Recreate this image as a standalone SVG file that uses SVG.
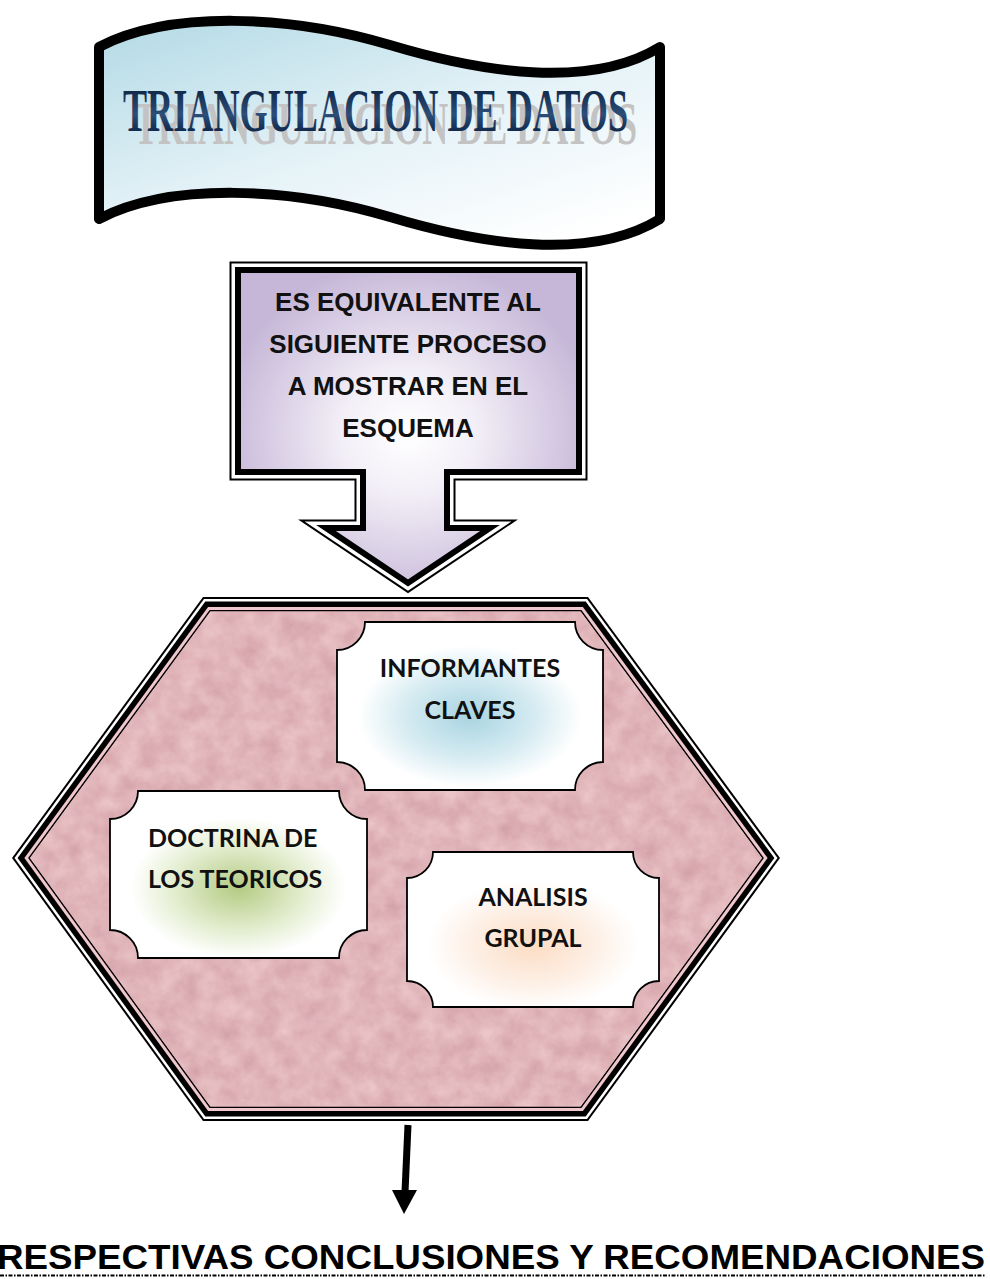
<svg xmlns="http://www.w3.org/2000/svg" width="990" height="1279" viewBox="0 0 990 1279">
<defs>
<style>
.title{font-family:"Liberation Serif","Times New Roman",serif;font-weight:bold;font-size:62px}
.box{font-family:"Liberation Sans",Arial,sans-serif;font-weight:bold;font-size:26px;fill:#111;text-anchor:middle}
.card{font-family:Lato,"Open Sans",sans-serif;font-weight:bold;font-size:25px;fill:#111}
.cardshape{stroke:#000;stroke-width:1.8}
.foot{font-family:"Liberation Sans",Arial,sans-serif;font-weight:bold;font-size:35px;fill:#000}
</style>
<linearGradient id="banG" x1="0" y1="0" x2="0.8" y2="1">
<stop offset="0" stop-color="#b2d9e5"/>
<stop offset="0.55" stop-color="#e4f2f7"/>
<stop offset="1" stop-color="#ffffff"/>
</linearGradient>
<linearGradient id="titG" gradientUnits="userSpaceOnUse" x1="0" y1="88" x2="0" y2="132">
<stop offset="0" stop-color="#0f2544"/>
<stop offset="0.6" stop-color="#2c4e78"/>
<stop offset="1" stop-color="#10284a"/>
</linearGradient>
<radialGradient id="purG" cx="0.5" cy="0.52" r="0.55">
<stop offset="0" stop-color="#ffffff"/>
<stop offset="0.35" stop-color="#f3eff7"/>
<stop offset="1" stop-color="#c6b7d8"/>
</radialGradient>
<radialGradient id="blueG" cx="0.5" cy="0.56" r="0.42">
<stop offset="0" stop-color="#a8d4e1"/>
<stop offset="0.6" stop-color="#d7ecf2"/>
<stop offset="1" stop-color="#ffffff"/>
</radialGradient>
<radialGradient id="greenG" cx="0.5" cy="0.58" r="0.42">
<stop offset="0" stop-color="#b3cb83"/>
<stop offset="0.6" stop-color="#e3edcf"/>
<stop offset="1" stop-color="#ffffff"/>
</radialGradient>
<radialGradient id="peachG" cx="0.5" cy="0.6" r="0.42">
<stop offset="0" stop-color="#fcdcc4"/>
<stop offset="0.6" stop-color="#fdf0e6"/>
<stop offset="1" stop-color="#ffffff"/>
</radialGradient>
<filter id="tex" x="0" y="0" width="1" height="1" color-interpolation-filters="sRGB">
<feTurbulence type="fractalNoise" baseFrequency="0.05" numOctaves="4" seed="7" result="n"/>
<feColorMatrix in="n" type="matrix" values="0.12 0 0 0 0.82  0.18 0 0 0 0.62  0.16 0 0 0 0.65  0 0 0 0 1" result="c"/>
<feComposite in="c" in2="SourceGraphic" operator="in"/>
</filter>
</defs>

<g id="banner">
<path d="M99,47 C170,10 290,15 390,45 C480,72 590,90 660,47 L660,219 C590,262 480,244 390,217 C290,187 170,182 99,219 Z" fill="url(#banG)" stroke="#000" stroke-width="10" stroke-linejoin="round"/>
<text class="title" x="134" y="144" textLength="503" lengthAdjust="spacingAndGlyphs" fill="#c3c3c3" font-size="66">TRIANGULACION DE DATOS</text>
<text class="title" x="123" y="131" textLength="505" lengthAdjust="spacingAndGlyphs" fill="url(#titG)">TRIANGULACION DE DATOS</text>
</g>

<g id="proceso">
<path d="M238,270 H579 V472 H447 V528 H490 L408,583 L326,528 H363 V472 H238 Z" fill="none" stroke="#000" stroke-width="17"/>
<path d="M238,270 H579 V472 H447 V528 H490 L408,583 L326,528 H363 V472 H238 Z" fill="none" stroke="#fff" stroke-width="13"/>
<path d="M238,270 H579 V472 H447 V528 H490 L408,583 L326,528 H363 V472 H238 Z" fill="url(#purG)" stroke="#000" stroke-width="6"/>
<text class="box" x="408" y="311">ES EQUIVALENTE AL</text>
<text class="box" x="408" y="353">SIGUIENTE PROCESO</text>
<text class="box" x="408" y="395">A MOSTRAR EN EL</text>
<text class="box" x="408" y="437">ESQUEMA</text>
</g>

<g id="hexagono">
<polygon points="12,858 203,597 588,597 780,858 588,1121 203,1121" fill="#000"/>
<polygon points="14.5,858 204,599 587,599 777.5,858 587,1119 204,1119" fill="#fff"/>
<polygon points="17.6,858 205.3,601.5 585.7,601.5 774.4,858 585.7,1116.5 205.3,1116.5" fill="#000"/>
<polygon points="24.4,858 208.1,607 582.9,607 767.6,858 582.9,1111 208.1,1111" fill="#efc7cc"/>
<polygon points="28.1,858 209.6,610 581.4,610 763.9,858 581.4,1108 209.6,1108" fill="#000"/>
<polygon points="30,858 210.4,611.5 580.6,611.5 762,858 580.6,1106.5 210.4,1106.5" fill="#e0b2ba"/>
<polygon points="30,858 210.4,611.5 580.6,611.5 762,858 580.6,1106.5 210.4,1106.5" fill="#e0b2ba" filter="url(#tex)"/>
</g>

<g id="informantes">
<path class="cardshape" fill="url(#blueG)" d="M365,622 H575 A28,28 0 0 0 603,650 V762 A28,28 0 0 0 575,790 H365 A28,28 0 0 0 337,762 V650 A28,28 0 0 0 365,622 Z"/>
<text class="card" x="470" y="677" text-anchor="middle">INFORMANTES</text>
<text class="card" x="470" y="719" text-anchor="middle">CLAVES</text>
</g>

<g id="doctrina">
<path class="cardshape" fill="url(#greenG)" d="M138,791 H339 A28,28 0 0 0 367,819 V930 A28,28 0 0 0 339,958 H138 A28,28 0 0 0 110,930 V819 A28,28 0 0 0 138,791 Z"/>
<text class="card" x="148" y="847">DOCTRINA DE</text>
<text class="card" x="148" y="888">LOS TEORICOS</text>
</g>

<g id="analisis">
<path class="cardshape" fill="url(#peachG)" d="M433,852 H633 A26,26 0 0 0 659,878 V981 A26,26 0 0 0 633,1007 H433 A26,26 0 0 0 407,981 V878 A26,26 0 0 0 433,852 Z"/>
<text class="card" x="533" y="906" text-anchor="middle">ANALISIS</text>
<text class="card" x="533" y="947" text-anchor="middle">GRUPAL</text>
</g>

<g id="connectors">
<line x1="408" y1="1125" x2="405" y2="1192" stroke="#000" stroke-width="7"/>
<polygon points="392,1190 417,1190 404,1214" fill="#000"/>
</g>

<g id="conclusiones">
<text class="foot" x="-3" y="1269" textLength="988" lengthAdjust="spacingAndGlyphs">RESPECTIVAS CONCLUSIONES Y RECOMENDACIONES</text>
<line x1="0" y1="1275.5" x2="986" y2="1275.5" stroke="#000" stroke-width="2" stroke-dasharray="4 1.5 1.5 1.5"/>
</g>
</svg>
